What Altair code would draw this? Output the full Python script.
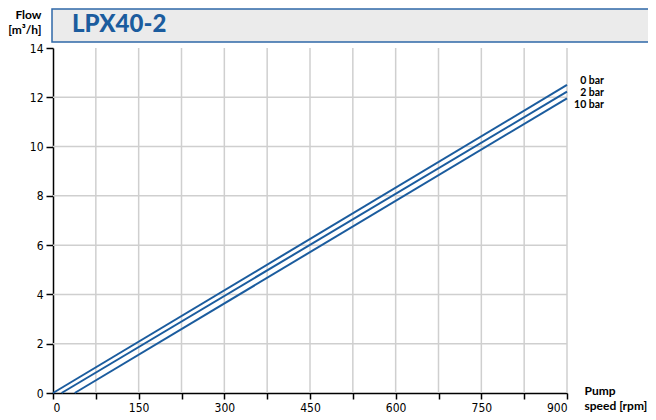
import altair as alt
import pandas as pd

# ---- data ----
series = ["0 bar", "2 bar", "10 bar"]
speed_start = [0, 15, 38]          # rpm where each line meets flow 0
speed_end = [900, 900, 900]
flow_start = [0, 0, 0]
flow_end = [12.5, 12.23, 11.96]    # m3/h at 900 rpm

x_ticks = list(range(0, 901, 75))
x_grid = list(range(75, 901, 75))
y_ticks = list(range(0, 15, 2))
y_grid = list(range(2, 13, 2))

title_text = "LPX40-2"

rows = []
for s, x0, x1, y0, y1 in zip(series, speed_start, speed_end, flow_start, flow_end):
    rows.append({"series": s, "speed": x0, "flow": y0})
    rows.append({"series": s, "speed": x1, "flow": y1})
lines_df = pd.DataFrame(rows)
ends_df = pd.DataFrame({"series": series, "speed": speed_end, "flow": flow_end})

BLUE = "#1b5c9e"
GRID = "#cfcfcf"
LABEL_FONT = "Liberation Sans Narrow, DejaVu Sans Condensed, Roboto"
BOLD_FONT = "Lato"

xs = alt.Scale(domain=[0, 900], nice=False, zero=False)
ys = alt.Scale(domain=[0, 14], nice=False, zero=False)

xgrid = alt.Chart(pd.DataFrame({"v": x_grid})).mark_rule(color=GRID, strokeWidth=1.5).encode(
    x=alt.X("v:Q", scale=xs), y=alt.value(0), y2=alt.value(345)
)
ygrid = alt.Chart(pd.DataFrame({"v": y_grid})).mark_rule(color=GRID, strokeWidth=1.5).encode(
    y=alt.Y("v:Q", scale=ys), x=alt.value(0), x2=alt.value(514)
)

lines = alt.Chart(lines_df).mark_line(color=BLUE, strokeWidth=2).encode(
    x=alt.X(
        "speed:Q",
        scale=xs,
        axis=alt.Axis(
            values=x_ticks,
            grid=False,
            labelExpr="datum.value % 150 == 0 ? datum.label : ''",
            labelFont=LABEL_FONT,
            labelFontSize=12,
            labelColor="#000",
            labelPadding=3,
            tickColor="#000",
            tickSize=6,
            tickWidth=1.5,
            domainColor="#000",
            domainWidth=1.5,
            title=["Pump", "speed [rpm]"],
            titleFont=BOLD_FONT,
            titleFontWeight="bold",
            titleFontSize=12,
            titleColor="#000",
            titleAlign="left",
            titleBaseline="top",
            titleAnchor="start",
            titleX=531,
            titleY=-8,
            titleLineHeight=15,
        ),
    ),
    y=alt.Y(
        "flow:Q",
        scale=ys,
        axis=alt.Axis(
            values=y_ticks,
            grid=False,
            labelFont=LABEL_FONT,
            labelFontSize=12,
            labelColor="#000",
            labelPadding=3,
            tickColor="#000",
            tickSize=7,
            tickWidth=1.5,
            domainColor="#000",
            domainWidth=1.5,
            title=["Flow", "[m³/h]"],
            titleFont=BOLD_FONT,
            titleFontWeight="bold",
            titleFontSize=12,
            titleColor="#000",
            titleAngle=0,
            titleAlign="right",
            titleBaseline="top",
            titleX=-12,
            titleY=-39,
            titleLineHeight=15,
        ),
    ),
    detail="series:N",
)

label_dy = [-3.5, 1.6, 7]
labels = []
for s, dy in zip(series, label_dy):
    labels.append(
        alt.Chart(ends_df[ends_df.series == s]).mark_text(
            align="right", baseline="middle", dx=37, dy=dy,
            font=BOLD_FONT, fontWeight="bold", fontSize=10.5, color="#000",
        ).encode(x=alt.X("speed:Q", scale=xs), y=alt.Y("flow:Q", scale=ys), text="series:N")
    )

box = alt.Chart(pd.DataFrame({"t": [title_text]})).mark_rect(
    fill="#ebebeb", stroke="#2f68a8", strokeWidth=1.5
).encode(x=alt.value(-1), x2=alt.value(597), y=alt.value(-39), y2=alt.value(-6))

title = alt.Chart(pd.DataFrame({"t": [title_text]})).mark_text(
    align="left", baseline="middle", font=BOLD_FONT, fontWeight=900,
    fontSize=24, color=BLUE,
).encode(x=alt.value(19), y=alt.value(-23), text="t:N")

chart = alt.layer(xgrid, ygrid, lines, *labels, box, title).properties(
    width=514, height=345,
    autosize=alt.AutoSizeParams(type="none"),
    padding={"left": 45, "top": 40, "right": 81, "bottom": 24},
).configure_view(stroke=None)

chart.save("out.html", embed_options={"renderer": "svg", "actions": False})
